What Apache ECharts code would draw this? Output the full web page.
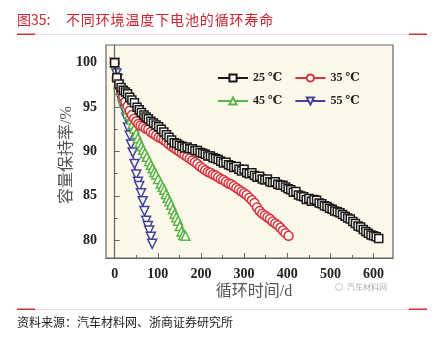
<!DOCTYPE html>
<html><head><meta charset="utf-8">
<script src="https://cdn.jsdelivr.net/npm/echarts@6/dist/echarts.min.js"></script>
<style>html,body{margin:0;padding:0;background:#fff}#c{width:433px;height:341px}</style>
</head><body><div id="c"></div>
<script>
var titleLabel = '图35:';
var titleText = '不同环境温度下电池的循环寿命';
var sourceText = '资料来源：汽车材料网、浙商证券研究所';
var xName = '循环时间/d';
var yName = '容量保持率/%';
var seriesNames = ['25 ℃', '35 ℃', '45 ℃', '55 ℃'];
var xTicks = [0, 100, 200, 300, 400, 500, 600];
var xMinorTicks = [50, 150, 250, 350, 450, 550];
var yTicks = [80, 85, 90, 95, 100];
var yMinorTicks = [82.5, 87.5, 92.5, 97.5];

var days25 = [0,5,10,15,20,25,30,35,40,46,52,57,62,68,73,78,84,90,96,102,108,114,120,126,132,138,144,150,156,162,168,174,180,186,192,198,204,210,216,222,228,234,240,246,252,258,264,270,276,282,288,294,300,306,312,318,324,330,336,342,348,354,360,366,372,378,384,390,396,402,408,414,420,426,432,438,444,450,456,462,468,474,480,486,492,498,504,510,516,522,528,534,540,546,552,558,564,570,576,582,588,594,600,606,612];
var vals25 = [100,98.3,97.6,97.2,96.9,96.7,96.5,96.1,95.8,95.5,95.0,94.7,94.4,94.1,93.9,93.7,93.4,93.2,93.0,92.8,92.5,92.2,91.9,91.6,91.3,91.0,90.9,90.7,90.6,90.4,90.5,90.3,90.3,90.1,90.1,89.9,89.8,89.7,89.5,89.5,89.3,89.2,89.1,88.9,88.7,88.8,88.5,88.4,88.2,88.3,88.0,87.8,88.0,87.6,87.5,87.6,87.3,87.1,87.2,86.9,86.8,86.9,86.6,86.5,86.6,86.3,86.2,86.2,86.0,85.8,85.7,85.4,85.5,85.1,85.0,84.9,84.6,84.7,84.4,84.6,84.5,84.2,84.1,83.9,83.8,83.6,83.5,83.3,83.2,83.1,82.9,82.7,82.5,82.4,82.1,81.9,81.6,81.5,81.2,81.0,80.8,80.6,80.5,80.4,80.2];

var days35 = [0,5,10,15,20,25,30,35,40,45,50,55,60,66,72,78,84,90,96,102,108,114,120,126,132,138,144,150,156,162,168,174,180,186,192,198,204,210,216,222,228,234,240,246,252,258,264,270,276,282,288,294,300,306,312,318,324,330,336,342,348,354,360,366,372,378,384,390,396,403];
var vals35 = [100,98.3,97.4,96.8,96.2,95.6,95.1,94.6,94.1,93.7,93.4,93.1,92.9,92.8,92.6,92.5,92.2,92.0,91.8,91.6,91.5,91.3,91.1,90.8,90.6,90.4,90.2,90.0,89.8,89.6,89.4,89.2,89.0,88.8,88.6,88.3,88.1,87.9,87.7,87.6,87.4,87.3,87.1,86.9,86.8,86.6,86.4,86.3,86.1,85.9,85.7,85.5,85.3,85.1,84.8,84.5,84.2,83.7,83.3,83.0,82.8,82.6,82.4,82.1,81.9,81.7,81.4,81.1,80.8,80.5];

var days45 = [0,5,9,13,17,21,25,30,34,38,42,46,50,54,58,62,66,70,75,80,84,88,92,96,101,107,111,115,119,123,127,131,135,139,143,147,151,155,159,164];
var vals45 = [100,98.5,97.6,96.9,96.3,95.9,95.4,94.7,94.1,93.6,93.1,92.6,92.0,91.5,91.0,90.6,90.2,89.8,89.4,88.9,88.5,88.1,87.7,87.4,86.9,86.4,86.0,85.7,85.2,84.8,84.4,84.0,83.5,83.0,82.6,82.2,81.6,81.0,80.6,80.5];

var days55 = [0,4,7,10,13,17,20,23,27,31,35,38,42,46,50,54,57,61,65,69,73,77,80,84,87];
var vals55 = [100,98.8,98.2,97.5,96.7,95.7,95.1,94.6,93.8,92.7,91.8,90.8,89.9,88.6,87.4,86.6,86.1,85.3,84.4,83.3,82.2,81.6,81.1,80.4,79.6];

function zip(a, b) { return a.map(function (d, i) { return [d, b[i]]; }); }

var colors = ['#1a1a1a', '#d6343f', '#5cb548', '#45449a'];
var symbols = ['rect', 'circle', 'triangle', 'triangle'];
var rotates = [0, 0, 0, 180];
var sizes = [8, 9, 9, 9];
var datasets = [zip(days25, vals25), zip(days35, vals35), zip(days45, vals45), zip(days55, vals55)];

var serif = '"Liberation Serif","DejaVu Serif",serif';
var cjk = '"Liberation Serif","Noto Sans CJK SC",serif';

var series = datasets.map(function (d, i) {
  return {
    name: seriesNames[i], type: 'line', data: d,
    xAxisIndex: 0, yAxisIndex: 0,
    symbol: symbols[i], symbolSize: sizes[i], symbolRotate: rotates[i],
    showAllSymbol: true,
    lineStyle: { color: colors[i], width: 1.2 },
    itemStyle: { color: '#fffdf6', borderColor: colors[i], borderWidth: 1.5 },
    emphasis: { disabled: true },
    animation: false, z: 10 - i
  };
});

var legendText = { fontFamily: serif, fontWeight: 'bold', fontSize: 12, color: '#222' };

var option = {
  animation: false,
  backgroundColor: '#ffffff',
  grid: { left: 106, right: 40, top: 45, bottom: 83, show: true, backgroundColor: '#fcf8ea', borderColor: '#666', borderWidth: 1.2 },
  legend: [
    { data: [seriesNames[0], seriesNames[1]], left: 212, top: 67, itemWidth: 30, itemHeight: 9, itemGap: 12, textStyle: legendText },
    { data: [seriesNames[2], seriesNames[3]], left: 212, top: 90, itemWidth: 30, itemHeight: 9, itemGap: 12, textStyle: legendText }
  ],
  xAxis: [
    { type: 'value', min: -20, max: 645, gridIndex: 0,
      axisLine: { show: true, lineStyle: { color: '#666', width: 1.2 } },
      splitLine: { show: false },
      axisTick: { show: true, inside: true, length: 5, customValues: xTicks, lineStyle: { color: '#666' } },
      axisLabel: { customValues: xTicks, margin: 9, fontFamily: serif, fontWeight: 'bold', fontSize: 14, color: '#222' } },
    { type: 'value', min: -20, max: 645, gridIndex: 0, position: 'bottom',
      axisLine: { show: false }, splitLine: { show: false },
      axisTick: { show: true, inside: true, length: 3, customValues: xMinorTicks, lineStyle: { color: '#666' } },
      axisLabel: { show: false } }
  ],
  yAxis: [
    { type: 'value', min: 78, max: 102, gridIndex: 0,
      axisLine: { show: true, lineStyle: { color: '#666', width: 1.2 } },
      splitLine: { show: false },
      axisTick: { show: true, inside: true, length: 5, customValues: yTicks, lineStyle: { color: '#666' } },
      axisLabel: { customValues: yTicks, margin: 9, fontFamily: serif, fontWeight: 'bold', fontSize: 14, color: '#222' } },
    { type: 'value', min: 78, max: 102, gridIndex: 0, position: 'left',
      axisLine: { show: false }, splitLine: { show: false },
      axisTick: { show: true, inside: true, length: 3, customValues: yMinorTicks, lineStyle: { color: '#666' } },
      axisLabel: { show: false } }
  ],
  series: series,
  graphic: [
    { type: 'text', left: 17, top: 13, style: { text: titleLabel, font: '14px "Noto Sans CJK SC"', fill: '#c8262f' } },
    { type: 'text', left: 66, top: 13, style: { text: titleText.split('').join('\u200A'), font: '14px "Noto Sans CJK SC"', fill: '#c8262f' } },
    { type: 'rect', shape: { x: 17, y: 34, width: 410, height: 1 }, style: { fill: '#f3d6d6' } },
    { type: 'rect', shape: { x: 17, y: 33.5, width: 18, height: 1.5 }, style: { fill: '#d0303a' } },
    { type: 'rect', shape: { x: 409, y: 33.5, width: 18, height: 1.5 }, style: { fill: '#d0303a' } },
    { type: 'rect', shape: { x: 17, y: 309, width: 410, height: 1 }, style: { fill: '#f3d6d6' } },
    { type: 'rect', shape: { x: 17, y: 308.5, width: 18, height: 1.5 }, style: { fill: '#d0303a' } },
    { type: 'rect', shape: { x: 409, y: 308.5, width: 18, height: 1.5 }, style: { fill: '#d0303a' } },
    { type: 'text', left: 17, top: 316, style: { text: sourceText, font: '12px "Noto Sans CJK SC"', fill: '#222' } },
    { type: 'text', x: 254, y: 292, style: { text: xName, font: '16px ' + cjk, fill: '#555', align: 'center', verticalAlign: 'middle' } },
    { type: 'text', x: 67, y: 155, rotation: Math.PI / 2, style: { text: yName, font: '16px ' + cjk, fill: '#555', align: 'center', verticalAlign: 'middle' } },
    { type: 'text', x: 347, y: 287, style: { text: '汽车材料网', font: '8px "Noto Sans CJK SC"', fill: '#b0b0b0', verticalAlign: 'middle' } },
    { type: 'circle', shape: { cx: 339, cy: 287, r: 3.5 }, style: { fill: 'none', stroke: '#c8c8c8', lineWidth: 1 } }
  ]
};
echarts.init(document.getElementById('c'), null, { renderer: 'canvas' }).setOption(option);
</script></body></html>
